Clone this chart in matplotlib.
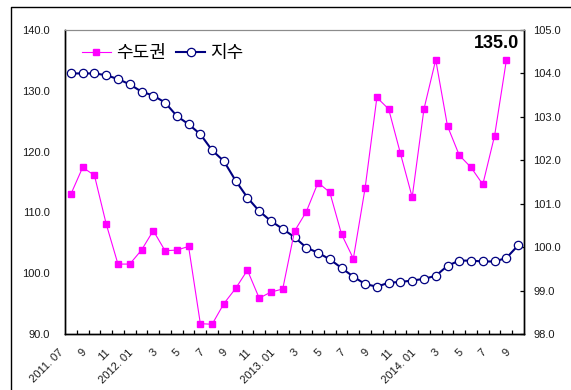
import numpy as np
import matplotlib
matplotlib.use("Agg")
import matplotlib.pyplot as plt
import matplotlib.transforms as mtransforms
from matplotlib.lines import Line2D
from matplotlib.ticker import FixedLocator, FormatStrFormatter

# Monthly series, 2011.07 - 2014.09
tick_labels = ['2011. 07', '9', '11', '2012. 01', '3', '5', '7', '9', '11',
               '2013. 01', '3', '5', '7', '9', '11', '2014. 01', '3', '5', '7', '9']

# Capital region (left axis), ends 2014.08
sudogwon = [113.0, 117.4, 116.1, 108.1, 101.5, 101.5, 103.8, 107.0, 103.7, 103.8,
            104.4, 91.7, 91.6, 95.0, 97.5, 100.5, 95.9, 96.9, 97.4, 106.9,
            110.1, 114.9, 113.3, 106.4, 102.4, 114.0, 128.9, 127.0, 119.7, 112.5,
            127.0, 135.1, 124.2, 119.4, 117.4, 114.6, 122.6, 135.0]

# Index (right axis)
jisu = [104.0, 104.0, 104.0, 103.96, 103.87, 103.75, 103.58, 103.49, 103.33, 103.02,
        102.83, 102.60, 102.23, 101.98, 101.53, 101.14, 100.83, 100.60, 100.42, 100.23,
        99.99, 99.87, 99.72, 99.52, 99.32, 99.15, 99.09, 99.18, 99.20, 99.23,
        99.27, 99.34, 99.57, 99.69, 99.69, 99.67, 99.67, 99.75, 100.04]

PINK = '#FF00FF'
NAVY = '#000080'
TXT = '#1a1a1a'

plt.rcParams['font.family'] = ['Liberation Sans', 'Noto Sans CJK KR', 'DejaVu Sans']

W, H = 571, 390
fig = plt.figure(figsize=(W / 100, H / 100), dpi=100)
ax = fig.add_axes([65 / W, 1 - 334 / H, 459 / W, 304 / H])
ax2 = ax.twinx()
ax.set_zorder(ax2.get_zorder() + 1)
ax.patch.set_visible(False)

x_jisu = np.arange(len(jisu))
x_sudo = np.arange(len(sudogwon))

l2, = ax2.plot(x_jisu, jisu, color=NAVY, lw=1.5, marker='o', ms=6,
               mfc='white', mec=NAVY, mew=0.9, label='지수')
l1, = ax.plot(x_sudo, sudogwon, color=PINK, lw=0.8, marker='s', ms=4.6,
              mfc=PINK, mec=PINK, label='수도권')

# axis ranges
ax.set_xlim(-0.5, len(jisu) - 0.5)
ax.set_ylim(90, 140)
ax2.set_ylim(98, 105)
ax.set_yticks(np.arange(90, 141, 10))
ax2.set_yticks(np.arange(98, 105.1, 1))
ax.yaxis.set_major_formatter(FormatStrFormatter('%.1f'))
ax2.yaxis.set_major_formatter(FormatStrFormatter('%.1f'))

# category ticks between months, labels every second month
ax.xaxis.set_major_locator(FixedLocator(np.arange(0, len(jisu), 2)))
ax.xaxis.set_minor_locator(FixedLocator(np.arange(0.5, len(jisu) - 0.5, 1)))
ax.set_xticklabels(tick_labels)
ax.tick_params(axis='x', which='major', length=0, pad=12.2, labelsize=8, labelcolor=TXT)
ax.tick_params(axis='x', which='minor', direction='in', length=2.6, width=0.9, color='black')
ax.tick_params(axis='y', length=0, pad=10.8, labelsize=8, labelcolor=TXT)
ax2.tick_params(axis='y', direction='in', length=2.8, width=0.9, pad=6.5,
                labelsize=8, labelcolor=TXT)

shift = mtransforms.ScaledTranslation(-9.5 / 100, 0, fig.dpi_scale_trans)
for lab in ax.get_xticklabels():
    lab.set_rotation(45)
    lab.set_ha('right')
    lab.set_va('center')
    lab.set_rotation_mode('anchor')
    lab.set_transform(lab.get_transform() + shift)

for a in (ax, ax2):
    for side in ('left', 'right', 'bottom'):
        a.spines[side].set_color('black')
        a.spines[side].set_linewidth(1.0)
    a.spines['top'].set_color('#8c8c8c')
    a.spines['top'].set_linewidth(0.8)

# label for the latest capital-region value
ax.annotate(f'{sudogwon[-1]:.1f}', xy=(x_sudo[-1], sudogwon[-1]),
            xytext=(13, 17), textcoords='offset pixels',
            ha='right', va='center', fontsize=13, fontweight='bold', color='black')

leg = ax.legend(handles=[l1, l2], loc='center left', ncol=2,
                bbox_to_anchor=((82 - 65) / 459, 1 - (53 - 30) / 304),
                frameon=False, borderpad=0, borderaxespad=0,
                handlelength=1.6, handletextpad=0.3, columnspacing=0.55,
                prop={'family': ['Noto Sans CJK KR'], 'size': 13})

# outer chart frame
fig.add_artist(Line2D([11 / W, 11 / W, 1], [0, 1 - 7 / H, 1 - 7 / H],
                      transform=fig.transFigure, color='black', lw=1.0))

fig.savefig('out.png', dpi=100)
